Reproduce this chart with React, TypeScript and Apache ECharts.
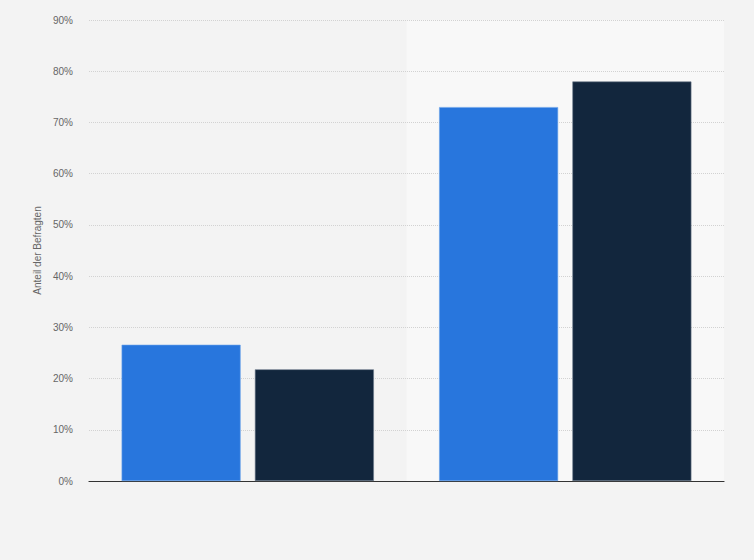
import { useEffect, useRef } from 'react';
import * as echarts from 'echarts';

// Two answer groups, two survey waves (no labels shown in the source chart)
const categories = ['Gruppe A', 'Gruppe B'];
const seriesNames = ['Welle 1', 'Welle 2'];
const waveOne = [26.6, 73];
const waveTwo = [21.8, 78];
const yTicks = [0, 10, 20, 30, 40, 50, 60, 70, 80, 90];

const App = () => {
    const chartRef = useRef<HTMLDivElement>(null);

    useEffect(() => {
        if (!chartRef.current) return;
        const chart = echarts.init(chartRef.current, null, { renderer: 'svg' });

        chart.setOption({
            animation: false,
            backgroundColor: '#f3f3f3',
            textStyle: { fontFamily: 'Arial, "Liberation Sans", sans-serif' },
            grid: { left: 89, right: 30, top: 20, bottom: 79 },
            xAxis: {
                type: 'category',
                data: categories,
                z: 0,
                axisLine: { show: true, lineStyle: { color: '#333333', width: 1.2 } },
                axisTick: { show: false },
                axisLabel: { show: false },
                splitArea: {
                    show: true,
                    areaStyle: { color: ['rgba(0,0,0,0)', '#f8f8f8'] }
                }
            },
            yAxis: {
                type: 'value',
                z: 1,
                min: yTicks[0],
                max: yTicks[yTicks.length - 1],
                interval: 10,
                name: 'Anteil der Befragten',
                nameLocation: 'middle',
                nameGap: 40,
                nameTextStyle: { color: '#666666', fontSize: 10 },
                axisLine: { show: false },
                axisTick: { show: false },
                axisLabel: {
                    color: '#666666',
                    fontSize: 10,
                    margin: 16,
                    formatter: (v: number) => `${v}%`
                },
                splitLine: {
                    showMinLine: false,
                    lineStyle: { color: '#d2d2d2', type: [1, 1], width: 1 }
                }
            },
            series: [
                {
                    name: seriesNames[0],
                    type: 'bar',
                    z: 3,
                    data: waveOne,
                    barWidth: 119,
                    barGap: '12%',
                    itemStyle: { color: '#2876dd', borderColor: '#6aa2ea', borderWidth: 0.6 }
                },
                {
                    name: seriesNames[1],
                    type: 'bar',
                    z: 3,
                    data: waveTwo,
                    barWidth: 119,
                    barGap: '12%',
                    itemStyle: { color: '#12263d', borderColor: '#6b7a8b', borderWidth: 0.6 }
                }
            ]
        });

        return () => {
            chart.dispose();
        };
    }, []);

    return (
        <div
            ref={chartRef}
            style={{ position: 'absolute', left: 0, top: 0, width: '754px', height: '560px' }}
        />
    );
};

export default App;
